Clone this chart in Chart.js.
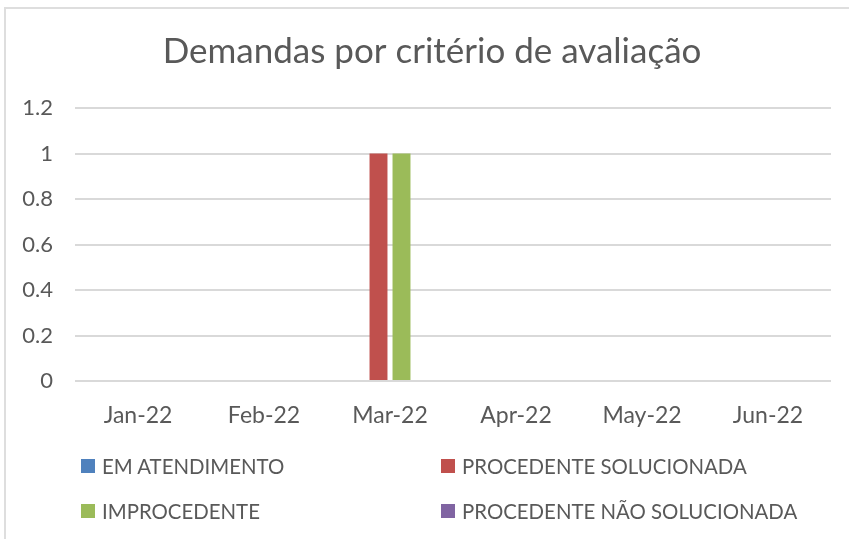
<!DOCTYPE html>
<html>
<head>
<meta charset="utf-8">
<script src="https://cdn.jsdelivr.net/npm/chart.js@4.4.1/dist/chart.umd.min.js"></script>
<style>
  html, body { margin: 0; padding: 0; background: #fff; }
  #wrap { position: relative; width: 849px; height: 539px; overflow: hidden; }
  #frame { position: absolute; left: 4px; top: 7px; width: 900px; height: 600px;
           border: 2px solid #dedede; box-sizing: border-box; }
  canvas { position: absolute; left: 0; top: 0; }
  #legend { position: absolute; left: 81px; top: 443px;
            display: grid; grid-template-columns: 360px 360px; grid-auto-rows: 45px;
            font-family: Lato, sans-serif; font-size: 20.4px; color: #595959; }
  .item { display: flex; align-items: center; }
  .box { width: 14px; height: 14px; margin-right: 7px; }
</style>
</head>
<body>
<div id="wrap">
  <div id="frame"></div>
  <!-- canvas un peu plus large que la fenêtre : le titre est centré comme dans l'original -->
  <canvas id="chart" width="864" height="539"></canvas>
  <div id="legend"></div>
</div>
<script>
// Données
const categories = ["Jan-22", "Feb-22", "Mar-22", "Apr-22", "May-22", "Jun-22"];
const emAtendimento = [0, 0, 0, 0, 0, 0];
const procedenteSolucionada = [0, 0, 1, 0, 0, 0];
const improcedente = [0, 0, 1, 0, 0, 0];
const procedenteNaoSolucionada = [0, 0, 0, 0, 0, 0];
const yTickLabels = ["0", "0.2", "0.4", "0.6", "0.8", "1", "1.2"];

const seriesNames = ["EM ATENDIMENTO", "PROCEDENTE SOLUCIONADA", "IMPROCEDENTE", "PROCEDENTE NÃO SOLUCIONADA"];
const seriesData = [emAtendimento, procedenteSolucionada, improcedente, procedenteNaoSolucionada];
const seriesColors = ["#4F81BD", "#C0504D", "#9BBB59", "#8064A2"];

const textColor = "#595959";

const chart = new Chart(document.getElementById("chart"), {
  type: "bar",
  data: {
    labels: categories,
    datasets: seriesData.map((d, i) => ({
      label: seriesNames[i],
      data: d,
      backgroundColor: seriesColors[i],
      categoryPercentage: 0.73,
      barPercentage: 0.78
    }))
  },
  options: {
    responsive: false,
    animation: false,
    layout: { padding: { left: 0, right: 0, top: 0, bottom: 109 } },
    plugins: {
      legend: { display: false },
      tooltip: { enabled: false },
      title: {
        display: true,
        text: "Demandas por critério de avaliação",
        color: textColor,
        font: { family: "Lato", size: 35, weight: "normal" },
        padding: { top: 31, bottom: 35 }
      }
    },
    scales: {
      x: {
        grid: { display: false },
        border: { display: false },
        ticks: { color: textColor, font: { family: "Lato", size: 23 }, padding: 13, maxRotation: 0 },
        afterFit: s => { s.height = 49; }
      },
      y: {
        min: 0,
        max: 1.2,
        grid: { color: "#d9d9d9", lineWidth: 2, drawTicks: false },
        border: { display: false },
        ticks: {
          stepSize: 0.2,
          color: textColor,
          font: { family: "Lato", size: 22 },
          padding: 22,
          callback: (v, i) => yTickLabels[i]
        },
        afterFit: s => { s.width = 75; }
      },
      // axe vide à droite : réserve la marge droite
      yRight: {
        position: "right",
        min: 0,
        max: 1.2,
        grid: { display: false },
        border: { display: false },
        ticks: { display: false },
        afterFit: s => { s.width = 33; }
      }
    }
  }
});

// Légende HTML en 2 colonnes
const legend = document.getElementById("legend");
seriesNames.forEach((name, i) => {
  const item = document.createElement("div");
  item.className = "item";
  item.innerHTML = '<span class="box" style="background:' + seriesColors[i] + '"></span>' + name;
  legend.appendChild(item);
});
</script>
</body>
</html>
